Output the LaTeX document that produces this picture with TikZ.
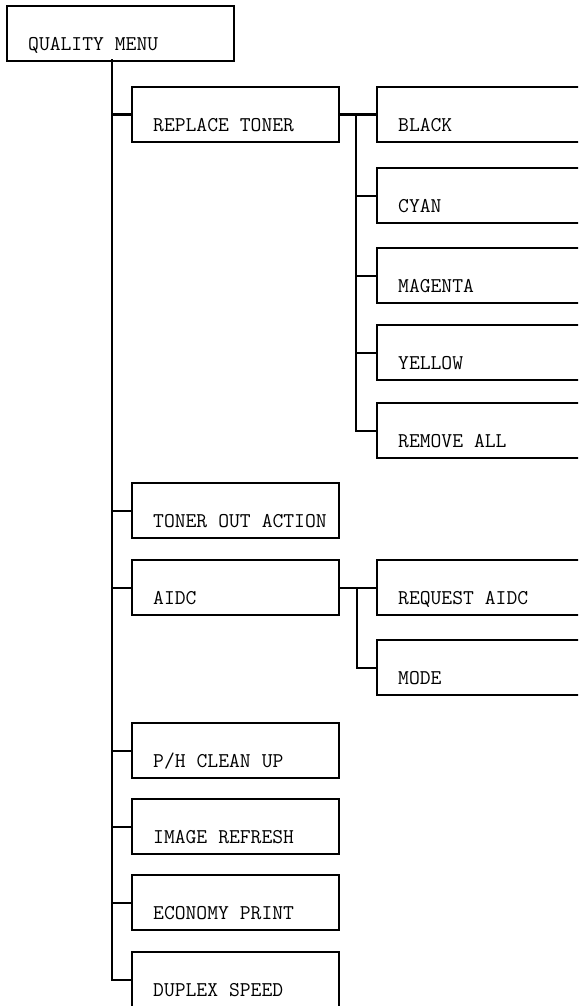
\documentclass[tikz,border=0pt]{standalone}
\usepackage{fontspec}
\usepackage{tikz}

\tikzset{
  menubox/.style={draw, line width=2.4pt, anchor=north west,
    inner xsep=0pt, inner ysep=0pt, text height=44pt, text depth=11pt,
    text width=#1, align=left,
    execute at begin node={\spaceskip=0.525em\relax\hspace*{21pt}},
    font=\ttfamily\fontsize{21}{23}\selectfont},
  link/.style={line width=2.4pt, line cap=rect},
}

\begin{document}
\begin{tikzpicture}[x=1pt, y=-1pt]
    \useasboundingbox (0,0) rectangle (578,1006);
    \clip (0,0) rectangle (578,1006);
    \node[menubox=227pt] (quality) at (6,5) {QUALITY MENU};
    \coordinate (trunk) at (112,60);
    \coordinate (tonerbus) at (356,0);
    \coordinate (aidcbus) at (357,0);
    % second level
    \foreach \n/\t/\y in {replace/REPLACE TONER/86, toneraction/TONER OUT ACTION/482,
        aidc/AIDC/559, clean/{P/H CLEAN UP}/722, refresh/IMAGE REFRESH/798,
        economy/ECONOMY PRINT/874, duplex/DUPLEX SPEED/951} {
        \node[menubox=207pt] (\n) at (131,\y) {\t};
        \draw[link] (trunk |- \n.west) -- (\n.west);
    }
    \draw[link] (trunk) -- (trunk |- duplex.west);
    % toner colours
    \foreach \n/\t/\y in {black/BLACK/86, cyan/CYAN/167, magenta/MAGENTA/247,
        yellow/YELLOW/324, removeall/REMOVE ALL/402} {
        \node[menubox=240pt] (\n) at (376,\y) {\t};
        \draw[link] (tonerbus |- \n.west) -- (\n.west);
    }
    \draw[link] (replace.east) -- (black.west);
    \draw[link] (tonerbus |- black.west) -- (tonerbus |- removeall.west);
    % aidc
    \foreach \n/\t/\y in {request/REQUEST AIDC/559, mode/MODE/639} {
        \node[menubox=240pt] (\n) at (376,\y) {\t};
        \draw[link] (aidcbus |- \n.west) -- (\n.west);
    }
    \draw[link] (aidc.east) -- (request.west);
    \draw[link] (aidcbus |- request.west) -- (aidcbus |- mode.west);
\end{tikzpicture}
\end{document}
